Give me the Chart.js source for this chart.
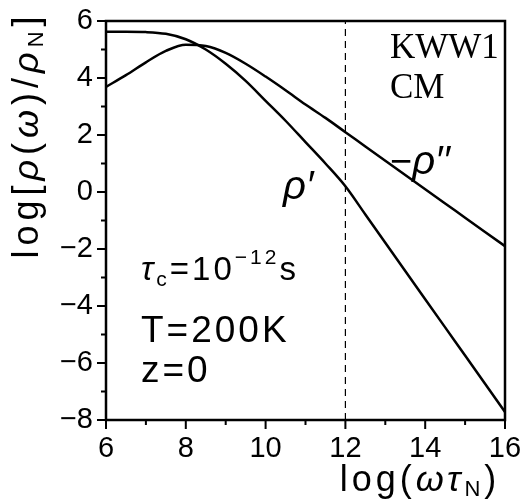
<!DOCTYPE html>
<html>
<head>
<meta charset="utf-8">
<script src="https://cdn.jsdelivr.net/npm/chart.js@4.4.1/dist/chart.umd.min.js"></script>
<style>
  body { margin: 0; background: #fff; }
  #wrap { width: 524px; height: 501px; }
</style>
</head>
<body>
<div id="wrap"><canvas id="rho-chart" width="524" height="501"></canvas></div>
<script>
// log(omega tau_N) grid
const logOmegaTau = [6, 6.5, 7, 7.5, 8, 8.5, 9, 9.5, 10, 10.5, 11, 11.5, 12, 12.5, 13, 13.5, 14, 14.5, 15, 15.5, 16];
// rho' (real part)
const rhoReal = [5.62, 5.62, 5.61, 5.55, 5.36, 5.0, 4.5, 3.9, 3.2, 2.5, 1.75, 1.0, 0.2, -0.79, -1.78, -2.77, -3.76, -4.75, -5.74, -6.73, -7.72];
// -rho'' (imaginary part)
const rhoImagNeg = [3.69, 4.1, 4.55, 4.95, 5.17, 5.12, 4.88, 4.5, 4.05, 3.57, 3.07, 2.6, 2.1, 1.6, 1.1, 0.6, 0.1, -0.4, -0.9, -1.4, -1.9];
// dashed marker at log(omega tau_N) = 12
const cutoffX = [12, 12];
const cutoffY = [-8, 6];

const xTickValues = [6, 8, 10, 12, 14, 16];
const yTickValues = [-8, -6, -4, -2, 0, 2, 4, 6];

const SANS = '"Liberation Sans", Arial, sans-serif';
const SERIF = '"Liberation Serif", "Times New Roman", serif';

function toPoints(xs, ys) {
  return xs.map((x, i) => ({ x: x, y: ys[i] }));
}

// draw a row of text runs (for subscripts / italics)
function drawRuns(ctx, runs, x, y, align, spacing) {
  ctx.letterSpacing = (spacing || 0) + 'px';
  let total = 0;
  runs.forEach((r) => {
    ctx.font = r.font;
    r.w = ctx.measureText(r.text).width + (r.gap || 0);
    total += r.w;
  });
  let cx = align === 'center' ? x - total / 2 : x;
  runs.forEach((r) => {
    ctx.font = r.font;
    ctx.fillText(r.text, cx, y + (r.dy || 0));
    cx += r.w;
  });
  ctx.letterSpacing = '0px';
}

const framePlugin = {
  id: 'frame',
  afterDraw(chart) {
    const { ctx, chartArea: a, scales } = chart;
    const x = scales.x;
    const y = scales.y;
    ctx.save();
    ctx.strokeStyle = '#000';
    ctx.fillStyle = '#000';
    ctx.lineWidth = 2.5;
    ctx.strokeRect(a.left, a.top, a.right - a.left, a.bottom - a.top);

    // outward ticks, minor on odd values
    ctx.lineWidth = 2;
    ctx.beginPath();
    for (let v = 6; v <= 16; v++) {
      const px = x.getPixelForValue(v);
      const len = v % 2 === 0 ? 9 : 5;
      ctx.moveTo(px, a.bottom);
      ctx.lineTo(px, a.bottom + len);
    }
    for (let v = -8; v <= 6; v++) {
      const py = y.getPixelForValue(v);
      const len = v % 2 === 0 ? 9 : 5;
      ctx.moveTo(a.left - len, py);
      ctx.lineTo(a.left, py);
    }
    ctx.stroke();

    ctx.textBaseline = 'alphabetic';
    ctx.textAlign = 'left';

    // x title
    drawRuns(ctx, [
      { text: 'log(', font: '36px ' + SANS },
      { text: 'ωτ', font: 'italic 36px ' + SANS },
      { text: 'N', font: '22px ' + SANS, dy: 5 },
      { text: ')', font: '36px ' + SANS },
    ], 420, 491, 'center', 4);

    // y title (rotated)
    ctx.save();
    ctx.translate(38, 135);
    ctx.rotate(-Math.PI / 2);
    drawRuns(ctx, [
      { text: 'log[', font: '36px ' + SANS },
      { text: 'ρ', font: 'italic 36px ' + SANS },
      { text: '(', font: '36px ' + SANS },
      { text: 'ω', font: 'italic 36px ' + SANS },
      { text: ')/', font: '36px ' + SANS },
      { text: 'ρ', font: 'italic 36px ' + SANS },
      { text: 'N', font: '22px ' + SANS, dy: 5 },
      { text: ']', font: '36px ' + SANS },
    ], 0, 0, 'center', 5);
    ctx.restore();

    // labels inside the plot
    ctx.font = '35px ' + SERIF;
    ctx.fillText('KWW1', 390, 58);
    ctx.fillText('CM', 390, 98);

    drawRuns(ctx, [
      { text: '−', font: '38px ' + SANS },
      { text: 'ρ′′', font: 'italic 40px ' + SANS },
    ], 390, 174, 'left');
    drawRuns(ctx, [
      { text: 'ρ′', font: 'italic 40px ' + SANS },
    ], 283, 199, 'left');

    drawRuns(ctx, [
      { text: 'τ', font: 'italic 33px ' + SANS },
      { text: 'c', font: '21px ' + SANS, dy: 6 },
      { text: '=10', font: '33px ' + SANS },
      { text: '−12', font: '21px ' + SANS, dy: -16 },
      { text: 's', font: '33px ' + SANS },
    ], 141, 280, 'left', 3);
    drawRuns(ctx, [{ text: 'T=200K', font: '37px ' + SANS }], 141, 342, 'left', 3);
    drawRuns(ctx, [{ text: 'z=0', font: '37px ' + SANS }], 141, 382, 'left', 3);
    ctx.restore();
  },
};

new Chart(document.getElementById('rho-chart'), {
  type: 'line',
  data: {
    datasets: [
      {
        label: "rho'",
        data: toPoints(logOmegaTau, rhoReal),
        borderColor: '#000',
        borderWidth: 2.5,
        pointRadius: 0,
        cubicInterpolationMode: 'monotone',
      },
      {
        label: "-rho''",
        data: toPoints(logOmegaTau, rhoImagNeg),
        borderColor: '#000',
        borderWidth: 2.5,
        pointRadius: 0,
        cubicInterpolationMode: 'monotone',
      },
      {
        label: 'cutoff',
        data: toPoints(cutoffX, cutoffY),
        borderColor: '#000',
        borderWidth: 1.2,
        borderDash: [7, 5],
        pointRadius: 0,
      },
    ],
  },
  options: {
    responsive: false,
    animation: false,
    layout: { padding: { top: 21, right: 19, left: 0, bottom: 0 } },
    plugins: {
      legend: { display: false },
      tooltip: { enabled: false },
    },
    scales: {
      x: {
        type: 'linear',
        min: 6,
        max: 16,
        afterFit: (scale) => {
          scale.height = 81;
          scale.paddingLeft = 0;
          scale.paddingRight = 0;
        },
        afterBuildTicks: (scale) => { scale.ticks = xTickValues.map((v) => ({ value: v })); },
        grid: { display: false, drawTicks: false },
        border: { display: false },
        ticks: {
          color: '#000',
          padding: 12,
          font: { family: SANS, size: 29 },
          callback: (v) => String(v),
        },
      },
      y: {
        type: 'linear',
        min: -8,
        max: 6,
        afterFit: (scale) => {
          scale.width = 106;
          scale.paddingTop = 0;
          scale.paddingBottom = 0;
        },
        afterBuildTicks: (scale) => { scale.ticks = yTickValues.map((v) => ({ value: v })); },
        grid: { display: false, drawTicks: false },
        border: { display: false },
        ticks: {
          color: '#000',
          padding: 13,
          font: { family: SANS, size: 29 },
          callback: (v) => (v < 0 ? '−' + Math.abs(v) : String(v)),
        },
      },
    },
  },
  plugins: [framePlugin],
});
</script>
</body>
</html>
